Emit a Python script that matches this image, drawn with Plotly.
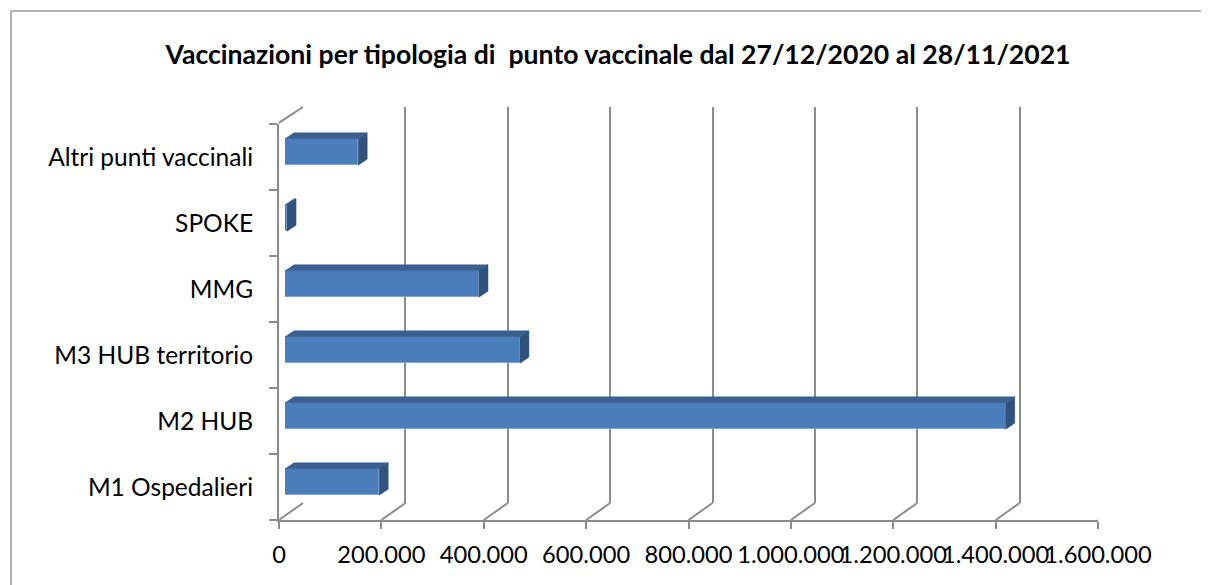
import plotly.graph_objects as go

# ---------------- data ----------------
categories = ["M1 Ospedalieri", "M2 HUB", "M3 HUB territorio", "MMG", "SPOKE", "Altri punti vaccinali"]
values = [184000, 1408000, 459000, 379000, 4000, 143000]
x_ticks = [0, 200000, 400000, 600000, 800000, 1000000, 1200000, 1400000, 1600000]
x_ticktext = ["0", "200.000", "400.000", "600.000", "800.000", "1.000.000", "1.200.000", "1.400.000", "1.600.000"]
title_text = "Vaccinazioni per tipologia di\u00a0 punto vaccinale dal 27/12/2020 al 28/11/2021"

# ---------------- layout geometry (pixels, page coordinates) ----------------
W, H = 1209, 585
PAGE = 8                  # body margin of the html page
FX0, FX1 = 279, 1098      # front plane x extent (0 .. max)
FYB, FYT = 520, 124       # front plane y extent
DEPTH = (24, 17)          # back wall offset (right, up)
BAR_OFF = (6, 5)          # bar front face offset
BAR_DEPTH = (9, 6)        # bar thickness in depth
XMAX = x_ticks[-1]
BAR_W = 0.4

GRID = "#8C8C8C"
FRONT = "#4A7EBB"
TOP = "#3B6090"
SIDE = "#30527E"
FONT = "Lato"


def px(x):
    return (x - PAGE) / W


def py(y):
    return 1 - (y - PAGE) / H


def xdom(off):
    return [px(FX0 + off), px(FX1 + off)]


def ydom(off):
    return [py(FYB - off), py(FYT - off)]


fig = go.Figure()

# back wall grid subplot (xy)
fig.add_trace(go.Scatter(x=[None], y=[None], xaxis="x", yaxis="y", showlegend=False, hoverinfo="skip"))
# front axes subplot (x2y2)
fig.add_trace(go.Bar(x=[0] * len(categories), y=categories, orientation="h", xaxis="x2", yaxis="y2",
                     showlegend=False, hoverinfo="skip", marker_color="rgba(0,0,0,0)"))
# bars subplot (x3y3)
ypos = list(range(len(categories)))
fig.add_trace(go.Bar(x=values, y=ypos, orientation="h", xaxis="x3", yaxis="y3", width=BAR_W,
                     marker=dict(color=FRONT, line=dict(color="#7FA3D2", width=1)),
                     showlegend=False, hovertext=categories))

# 3D faces of bars, computed through axis scale
px_per_x = (FX1 - FX0) / XMAX
px_per_y = (FYB - FYT) / len(categories)
ddx = BAR_DEPTH[0] / px_per_x
ddy = BAR_DEPTH[1] / px_per_y
shapes = []
for i, v in enumerate(values):
    t, b = i + BAR_W / 2, i - BAR_W / 2
    shapes.append(dict(type="path", xref="x3", yref="y3",
                       path=f"M 0,{t} L {v},{t} L {v + ddx},{t + ddy} L {ddx},{t + ddy} Z",
                       fillcolor=TOP, line=dict(color=TOP, width=0.5), layer="above"))
    shapes.append(dict(type="path", xref="x3", yref="y3",
                       path=f"M {v},{b} L {v},{t} L {v + ddx},{t + ddy} L {v + ddx},{b + ddy} Z",
                       fillcolor=SIDE, line=dict(color=SIDE, width=0.5), layer="above"))

# floor diagonals from each front tick to the back wall
for t in x_ticks:
    shapes.append(dict(type="line", xref="x2", yref="paper", xsizemode="pixel", ysizemode="pixel",
                       xanchor=t, yanchor=py(FYB), x0=0, y0=0, x1=DEPTH[0], y1=DEPTH[1],
                       line=dict(color=GRID, width=2), layer="below"))
# top-left wall diagonal
shapes.append(dict(type="line", xref="x2", yref="paper", xsizemode="pixel", ysizemode="pixel",
                   xanchor=0, yanchor=py(FYT), x0=-2, y0=0, x1=DEPTH[0], y1=DEPTH[1],
                   line=dict(color=GRID, width=2), layer="below"))
# outer chart border (top and left)
shapes.append(dict(type="line", xref="paper", yref="paper", x0=px(11), x1=1, y0=py(11), y1=py(11),
                   line=dict(color="#9A9A9A", width=1.5)))
shapes.append(dict(type="line", xref="paper", yref="paper", x0=px(11), x1=px(11), y0=0, y1=py(11),
                   line=dict(color="#9A9A9A", width=1.5)))

fig.update_layout(
    width=W, height=H,
    margin=dict(l=0, r=0, t=0, b=0, autoexpand=False),
    paper_bgcolor="white", plot_bgcolor="rgba(0,0,0,0)",
    separators=",.",
    font=dict(family=FONT, color="black"),
    title=dict(text="<b>" + title_text + "</b>", x=px(618), y=py(55), xanchor="center", yanchor="middle",
               font=dict(family=FONT, size=26.6, color="black"), automargin=False),
    bargap=0,
    shapes=shapes,
    xaxis=dict(domain=xdom(DEPTH[0]), range=[0, XMAX], anchor="y", tickvals=x_ticks, showticklabels=False,
               showgrid=True, gridcolor=GRID, gridwidth=2, zeroline=False, showline=False, ticks="",
               automargin=False),
    yaxis=dict(domain=ydom(DEPTH[1]), range=[0, 1], anchor="x", showgrid=False, zeroline=False,
               showticklabels=False, showline=False, automargin=False),
    xaxis2=dict(domain=xdom(0), range=[0, XMAX], anchor="y2", tickvals=x_ticks, ticktext=x_ticktext,
                tickangle=0, automargin=False,
                showgrid=False, zeroline=False, showline=True, linecolor=GRID, linewidth=2,
                ticks="outside", ticklen=7, tickwidth=2, tickcolor=GRID,
                tickfont=dict(family=FONT, size=23.7, color="black"), ticklabelstandoff=6),
    yaxis2=dict(domain=ydom(0), anchor="x2", type="category", categoryorder="array", categoryarray=categories,
                range=[-0.5, len(categories) - 0.5], tickson="boundaries", showgrid=False, zeroline=False,
                automargin=False,
                showline=True, linecolor=GRID, linewidth=2, ticks="outside", ticklen=8, tickwidth=2,
                tickcolor=GRID, tickfont=dict(family=FONT, size=24.5, color="black"), ticklabelstandoff=19),
    xaxis3=dict(domain=xdom(BAR_OFF[0]), range=[0, XMAX], anchor="y3", visible=False, fixedrange=True,
                automargin=False),
    yaxis3=dict(domain=ydom(BAR_OFF[1]), range=[-0.5, len(categories) - 0.5], anchor="x3", visible=False,
                automargin=False),
)

fig.write_html("out.html")
